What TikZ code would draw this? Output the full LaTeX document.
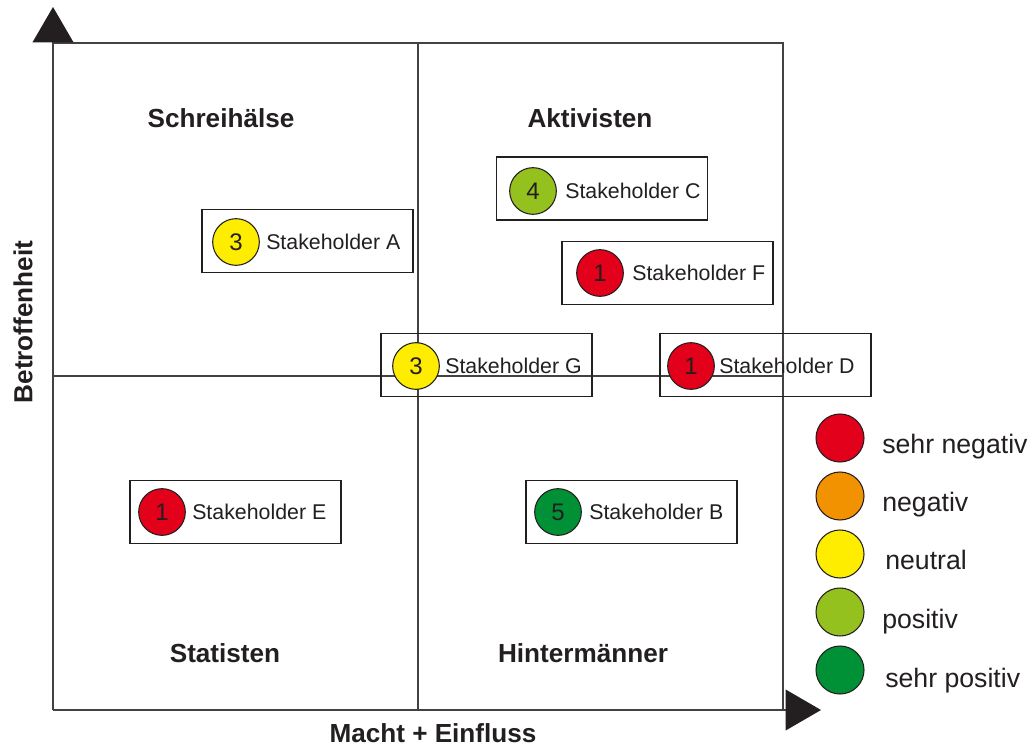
\documentclass[tikz,border=0pt]{standalone}
\usepackage{fontspec}
\setmainfont{Liberation Sans}
\usetikzlibrary{arrows.meta}
\definecolor{sred}{HTML}{E2001A}
\definecolor{sorange}{HTML}{F39200}
\definecolor{syellow}{HTML}{FFED00}
\definecolor{slgreen}{HTML}{95C11F}
\definecolor{sgreen}{HTML}{009036}
\definecolor{ink}{HTML}{231F20}
\begin{document}
\begin{tikzpicture}[x=0.75pt,y=-0.75pt,
  frame/.style={draw=ink!85, line width=1.1pt},
  axis/.style={draw=ink!85, line width=1.1pt, -{Triangle[length=26.5pt,width=30.5pt,color=ink,fill=ink]}},
  sbox/.style={draw=ink, line width=1.1pt, minimum width=158.25pt, minimum height=47pt, inner sep=0pt},
  dot/.style={circle, draw=ink, line width=0.8pt, minimum size=35pt, inner sep=0pt, text=ink, font=\fontsize{18}{20}\selectfont},
  ldot/.style={circle, draw=ink, line width=0.8pt, minimum size=36pt, inner sep=0pt},
  stext/.style={anchor=west, inner sep=0pt, text=ink, font=\fontsize{16}{19}\selectfont},
  ltext/.style={anchor=base west, inner sep=0pt, text=ink, font=\fontsize{20}{24}\selectfont},
  title/.style={inner sep=0pt, text=ink, font=\fontsize{19.6}{23}\selectfont\bfseries}]
\useasboundingbox (0,0) rectangle (1034,746);
\fill[white] (0,0) rectangle (1034,746);
% frame coordinates
\coordinate (O) at (53,710);
\coordinate (ytip) at (53,7);
\coordinate (xtip) at (821,710);
\coordinate (TL) at (53,43);
\coordinate (TR) at (783,43);
\coordinate (BR) at (783,710);
\coordinate (mT) at (418,43);
\coordinate (mB) at (418,710);
\coordinate (mL) at (53,376);
\coordinate (mR) at (783,376);
\draw[frame] (TL) -- (TR) -- (BR);
\draw[frame] (mT) -- (mB);
\draw[frame] (mL) -- (mR);
\draw[axis] (O) -- (ytip);
\draw[axis] (O) -- (xtip);
% axis labels
\node[title] (xlab) at (433,733) {Macht + Einfluss};
\node[title, rotate=90] (ylab) at (23,322) {Betroffenheit};
% quadrant titles
\node[title] (q1) at (221,118) {Schreihälse};
\node[title] (q2) at (590,118) {Aktivisten};
\node[title] (q3) at (225,653) {Statisten};
\node[title] (q4) at (583,653) {Hintermänner};
% boxes
\node[sbox] (bA) at (307.5,241) {};
\node[sbox] (bC) at (602,188.5) {};
\node[sbox] (bF) at (667.5,273) {};
\node[sbox] (bG) at (486.5,365) {};
\node[sbox] (bD) at (765.5,365) {};
\node[sbox] (bE) at (235.5,512) {};
\node[sbox] (bB) at (631.5,512) {};
% circles
\node[dot, fill=syellow] (cA) at (236,242) {3};
\node[dot, fill=slgreen] (cC) at (533,191) {4};
\node[dot, fill=sred] (cF) at (600,273) {1};
\node[dot, fill=syellow] (cG) at (416,366) {3};
\node[dot, fill=sred] (cD) at (691,366) {1};
\node[dot, fill=sred] (cE) at (162,512) {1};
\node[dot, fill=sgreen] (cB) at (558,512) {5};
% labels
\node[stext] (tA) at (266,242) {Stakeholder A};
\node[stext] (tC) at (565,191) {Stakeholder C};
\node[stext] (tF) at (632,273) {Stakeholder F};
\node[stext] (tG) at (445,366) {Stakeholder G};
\node[stext] (tD) at (719,366) {Stakeholder D};
\node[stext] (tE) at (192,512) {Stakeholder E};
\node[stext] (tB) at (589,512) {Stakeholder B};
% legend
\node[ldot, fill=sred] (l1) at (840,438) {};
\node[ldot, fill=sorange] (l2) at (840,496) {};
\node[ldot, fill=syellow] (l3) at (840,554) {};
\node[ldot, fill=slgreen] (l4) at (840,612) {};
\node[ldot, fill=sgreen] (l5) at (840,670) {};
\node[ltext] (lt1) at (882,453) {sehr negativ};
\node[ltext] (lt2) at (882,511) {negativ};
\node[ltext] (lt3) at (885,569) {neutral};
\node[ltext] (lt4) at (882,628) {positiv};
\node[ltext] (lt5) at (885,687) {sehr positiv};
\end{tikzpicture}
\end{document}
